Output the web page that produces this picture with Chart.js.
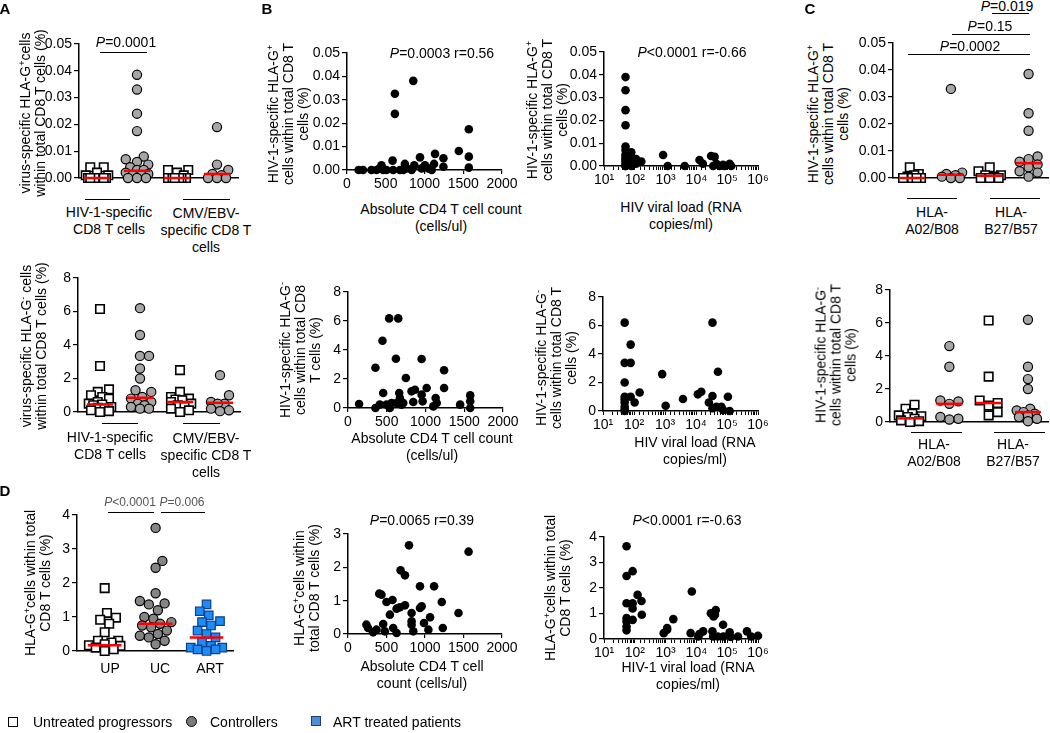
<!DOCTYPE html>
<html>
<head>
<meta charset="utf-8">
<script src="https://cdn.jsdelivr.net/npm/chart.js@4.4.0/dist/chart.umd.min.js"></script>
<style>
  body { margin: 0; background: #fff; width: 1050px; height: 733px; position: relative; overflow: hidden;
         font-family: 'Liberation Sans', Arial, sans-serif; color: #000; }
  canvas { position: absolute; }
  .t { position: absolute; transform: translate(-50%, -50%); font-size: 14px; line-height: 16px;
       text-align: center; white-space: nowrap; }
  .r { transform: translate(-50%, -50%) rotate(-90deg); line-height: 15px; }
  .hl { position: absolute; height: 0; border-top: 1.5px solid #000; }
  .lt { position: absolute; font-size: 14px; white-space: nowrap; transform: translateY(-50%); }
  sup { font-size: 9px; vertical-align: 5px; line-height: 0; }
</style>
</head>
<body>
<script>
// ---------- DATA ----------
// A top: virus-specific HLA-G+ cells within total CD8 T cells (%)
const aPosHivUP = [0.004, 0.004, 0.002, 0.001, 0.001, 0, 0, 0, 0, 0, 0, 0, 0, 0];
const aPosHivUC = [0.0385, 0.033, 0.024, 0.0175, 0.008, 0.007, 0.006, 0.005, 0.004, 0.003, 0.003, 0.002, 0.0015, 0.001, 0.001, 0, 0, 0];
const aPosCmvUP = [0.003, 0.003, 0.002, 0.001, 0, 0, 0, 0, 0, 0, 0];
const aPosCmvUC = [0.019, 0.005, 0.003, 0.0015, 0.001, 0, 0, 0];
const aPosMedians = [0, 0.0027, 0, 0.0015];

// A bottom: virus-specific HLA-G- cells (%)
const aNegHivUP = [6.15, 2.75, 1.35, 1.2, 1.0, 0.9, 0.8, 0.6, 0.5, 0.45, 0.4, 0.3, 0.25, 0.2, 0.1, 0.05, 0];
const aNegHivUC = [6.2, 4.6, 3.35, 3.35, 2.6, 2.0, 1.3, 1.2, 0.9, 0.8, 0.6, 0.5, 0.4, 0.3, 0.2, 0.2];
const aNegCmvUP = [2.5, 1.2, 0.9, 0.8, 0.75, 0.7, 0.6, 0.5, 0.4, 0.3, 0.2, 0.1, 0];
const aNegCmvUC = [2.2, 1.0, 0.6, 0.5, 0.5, 0.2, 0.1, 0.05];
const aNegMedians = [0.45, 0.85, 0.6, 0.55];

// B: CD4 count / viral load vs HIV-1-specific HLA-G+ and HLA-G- cells
const b1Cd4 = [150, 207, 315, 380, 423, 445, 466, 510, 588, 596, 618, 618, 683, 726, 747, 769, 834, 855, 868, 942, 963, 1006, 1050, 1093, 1123, 1136, 1244, 1244, 1443, 1572, 1572, 1572];
const b1Pos = [0, 0, 0, 0, 0.0007, 0.002, 0, 0, 0.004, 0, 0.0326, 0.024, 0, 0, 0.0026, 0.0007, 0, 0.0381, 0.002, 0.0054, 0.0007, 0.002, 0.0007, 0, 0.0026, 0.0069, 0.005, 0.0014, 0.0081, 0.0174, 0.0057, 0.001];

const b2Vl = [50, 50, 50, 50, 50, 50, 50, 50, 50, 50, 50, 50, 50, 77, 77, 77, 77, 110, 110, 163, 830, 1170, 4170, 12600, 16200, 30000, 35000, 39000, 44600, 57000, 73000, 83000, 120000, 135000];
const b2Pos = [0.039, 0.0332, 0.0245, 0.0179, 0.0085, 0.007, 0.005, 0.004, 0.003, 0.002, 0.001, 0, 0, 0.006, 0.004, 0.002, 0, 0.003, 0.001, 0.002, 0.0048, 0, 0, 0.0026, 0.001, 0.0044, 0, 0.004, 0.001, 0, 0.0005, 0, 0.001, 0];

const b3Cd4 = [143, 354, 354, 410, 445, 454, 497, 540, 531, 562, 618, 626, 648, 661, 670, 691, 713, 747, 820, 842, 864, 950, 950, 963, 1015, 1101, 1131, 1145, 1240, 1240, 1447, 1577, 1577, 1577];
const b3Neg = [0.28, 0, 2.78, 0.23, 4.64, 1.03, 0.23, 0, 6.18, 0.34, 3.4, 0.34, 6.18, 1.03, 0.69, 0.23, 0.34, 2.07, 1.15, 0.41, 1.26, 3.38, 0.92, 0.46, 1.38, 0.11, 0.69, 0.34, 2.6, 1.38, 0.23, 0.87, 0.46, 0];

const b4Vl = [50, 50, 50, 50, 50, 50, 50, 50, 50, 78, 78, 78, 105, 152, 810, 1050, 3800, 11500, 14800, 26000, 34000, 34000, 34000, 45500, 51000, 66000, 75000, 107000, 122000];
const b4Neg = [6.2, 3.38, 2.0, 1.0, 0.8, 0.6, 0.3, 0.1, 0, 4.66, 3.38, 1.0, 0.6, 1.3, 2.59, 0.37, 0.84, 1.17, 1.35, 0.6, 6.2, 1.05, 0.19, 0.3, 2.75, 0.3, 0.07, 1.0, 0];

// C: HIV-1-specific cells by HLA allele group
const cPosA02UP = [0.004, 0.0015, 0.001, 0.0005, 0, 0, 0, 0];
const cPosA02UC = [0.033, 0.002, 0.0015, 0.001, 0.0005, 0, 0];
const cPosB27UP = [0.004, 0.0025, 0.001, 0.001, 0.0005, 0, 0, 0];
const cPosB27UC = [0.0385, 0.024, 0.0175, 0.008, 0.007, 0.006, 0.005, 0.004, 0.0025, 0.002, 0.0005];
const cPosMedians = [0, 0.0012, 0.0008, 0.0055];

const cNegA02UP = [1.05, 0.8, 0.5, 0.4, 0.35, 0.3, 0.2, 0.1, 0.05, 0];
const cNegA02UC = [4.6, 3.35, 1.3, 1.25, 1.1, 0.3, 0.2, 0.15];
const cNegB27UP = [6.15, 2.75, 1.3, 1.15, 1.0, 0.6, 0.4];
const cNegB27UC = [6.2, 3.35, 2.6, 2.0, 0.8, 0.7, 0.6, 0.5, 0.4, 0.3, 0.2, 0.05];
const cNegMedians = [0.22, 1.1, 1.15, 0.6];

// D: total HLA-G+ CD8 T cells (%)
const dUP = [1.85, 1.12, 0.98, 0.92, 0.8, 0.55, 0.3, 0.3, 0.25, 0.2, 0.17, 0.15, 0.1, 0.05, 0];
const dUC = [3.62, 2.65, 2.45, 1.7, 1.47, 1.4, 1.37, 1.2, 1.0, 0.95, 0.85, 0.8, 0.75, 0.7, 0.6, 0.5, 0.45, 0.4, 0.3, 0.2];
const dART = [1.37, 1.17, 1.05, 0.88, 0.85, 0.75, 0.6, 0.5, 0.4, 0.25, 0.15, 0.1, 0.1, 0.05, 0.05, 0];
const dMedians = [0.17, 0.8, 0.4];

const d2Cd4 = [239, 261, 326, 370, 405, 435, 457, 478, 500, 544, 578, 587, 631, 631, 674, 683, 740, 740, 792, 826, 826, 826, 848, 935, 935, 957, 987, 1044, 1066, 1118, 1218, 1231, 1435, 1566];
const d2Pos = [0.28, 0.18, 0.05, 0.13, 1.21, 1.18, 0.3, 0.08, 0.96, 0.58, 1.02, 0.18, 0.76, 0.03, 0.8, 1.91, 1.76, 0.86, 2.66, 0.63, 0.38, 0.28, 0.08, 1.43, 0.78, 0.83, 0.33, 0.13, 0.5, 1.43, 0.96, 0.18, 0.63, 2.47];

const d3Vl = [54, 54, 54, 54, 54, 54, 54, 85, 85, 85, 85, 123, 165, 169, 870, 1120, 1120, 1780, 6500, 7100, 11500, 12500, 16600, 29500, 33000, 35000, 36000, 40000, 42500, 49000, 73500, 75000, 120000, 130000, 224000, 437000, 600000, 1000000];
const d3Pos = [3.64, 2.47, 1.4, 0.82, 0.69, 0.49, 0.34, 2.66, 1.4, 1.2, 0.75, 1.73, 1.49, 0.95, 0.23, 0.36, 0.43, 0.78, 0.23, 1.86, 0.1, 0.19, 0.3, 1.01, 0.3, 0.1, 0.88, 0.95, 1.14, 0.1, 0.56, 0.1, 0.26, 0.08, 0.1, 0.3, 0.1, 0.13];

// ---------- SETUP ----------
Chart.defaults.font.family = "'Liberation Sans', Arial, sans-serif";
Chart.defaults.font.size = 14;
Chart.defaults.color = '#000';

const YW = 42, PT = 12, PR = 18;
const SUP = ['\u2070', '\u00b9', '\u00b2', '\u00b3', '\u2074', '\u2075', '\u2076'];

const STYLE = {
  up:  { pointStyle: 'rect', pointRadius: 6, pointBackgroundColor: '#fff', pointBorderColor: '#000', pointBorderWidth: 1.6 },
  uc:  { pointStyle: 'circle', pointRadius: 4.6, pointBackgroundColor: '#a6a6a6', pointBorderColor: '#000', pointBorderWidth: 1.2 },
  ucD: { pointStyle: 'circle', pointRadius: 4.6, pointBackgroundColor: '#858585', pointBorderColor: '#000', pointBorderWidth: 1.2 },
  art: { pointStyle: 'rect', pointRadius: 6, pointBackgroundColor: '#1e8cf5', pointBorderColor: '#0b3f8f', pointBorderWidth: 1.2 }
};

function addCanvas(box, xh) {
  const c = document.createElement('canvas');
  const w = YW + (box.r - box.l) + PR, h = PT + (box.b - box.t) + xh;
  c.width = w; c.height = h;
  c.style.left = (box.l - YW) + 'px';
  c.style.top = (box.t - PT) + 'px';
  c.style.width = w + 'px';
  c.style.height = h + 'px';
  document.body.appendChild(c);
  return c;
}

function yScale(max, step, dec) {
  return {
    min: 0, max,
    ticks: { stepSize: step, callback: v => v.toFixed(dec), padding: 2 },
    grid: { drawOnChartArea: false, tickLength: 5, color: '#000', lineWidth: 1.2 },
    border: { color: '#000', width: 1.5 },
    afterFit: s => { s.width = YW; }
  };
}

function options(x, y) {
  return {
    responsive: false, animation: false, events: [],
    layout: { padding: { top: PT, right: PR, left: 0, bottom: 0 } },
    plugins: { legend: { display: false }, tooltip: { enabled: false } },
    scales: { x, y }
  };
}

// spread dots of equal value sideways (in pixels) so they do not overlap
function swarm(values, center, kx, ky, r, spread) {
  const placed = [], out = [];
  const idx = values.map((v, i) => i).sort((a, b) => values[a] - values[b]);
  const n = Math.floor(spread / (r / 2));
  idx.forEach(i => {
    const py = values[i] * ky;
    let best = 0, bestD = -1;
    for (let k = 0; k <= 2 * n; k++) {
      const off = (k % 2 ? 1 : -1) * Math.ceil(k / 2) * r / 2;
      let d = Infinity;
      placed.forEach(p => { d = Math.min(d, Math.hypot(p.x - off, p.y - py)); });
      if (d >= 2 * r) { best = off; break; }
      if (d > bestD + 0.5) { bestD = d; best = off; }
    }
    placed.push({ x: best, y: py });
    out[i] = { x: center + best / kx, y: values[i] };
  });
  return out;
}

function dotPanel(box, xr, y, spread, groups) {
  const c = addCanvas(box, 14);
  const kx = (box.r - box.l) / (xr[1] - xr[0]);
  const ky = (box.b - box.t) / y.max;
  const datasets = [];
  groups.forEach(g => {
    datasets.push(Object.assign({ type: 'scatter', data: swarm(g.values, g.pos, kx, ky, 4.5, spread), clip: false, order: 1 }, STYLE[g.kind]));
    datasets.push({ type: 'line', data: [{ x: g.pos - 0.33, y: g.median }, { x: g.pos + 0.33, y: g.median }],
                    borderColor: '#ff0000', borderWidth: 2.5, pointRadius: 0, clip: false, order: 0 });
  });
  const x = { type: 'linear', min: xr[0], max: xr[1], ticks: { display: false }, grid: { display: false },
              border: { color: '#000', width: 1.5 }, afterFit: s => { s.height = 14; } };
  new Chart(c, { type: 'scatter', data: { datasets }, options: options(x, yScale(y.max, y.step, y.dec)) });
}

function cd4X() {
  return { type: 'linear', min: 0, max: 2000,
           ticks: { stepSize: 500, padding: 2, maxRotation: 0, callback: v => String(v) },
           grid: { drawOnChartArea: false, tickLength: 4, color: '#000', lineWidth: 1.2 },
           border: { color: '#000', width: 1.5 }, afterFit: s => { s.height = 26; } };
}

function vlX() {
  return { type: 'logarithmic', min: 10, max: 1e6,
           ticks: { autoSkip: false, maxRotation: 0, padding: 2,
                    callback: v => { const e = Math.round(Math.log10(v)); return Math.abs(v - Math.pow(10, e)) < 1e-6 * v ? '10' + SUP[e] : ''; } },
           grid: { drawOnChartArea: false, tickLength: 4, color: '#000', lineWidth: 1 },
           border: { color: '#000', width: 1.5 }, afterFit: s => { s.height = 26; } };
}

function scatterPanel(box, x, y, xs, ys) {
  const c = addCanvas(box, 26);
  const data = xs.map((v, i) => ({ x: v, y: ys[i] }));
  new Chart(c, { type: 'scatter',
    data: { datasets: [{ data, pointRadius: 4.3, pointBackgroundColor: '#000', pointBorderColor: '#000', pointBorderWidth: 0, clip: false }] },
    options: options(x, yScale(y.max, y.step, y.dec)) });
}

function label(html, x, y, cls, style) {
  const d = document.createElement('div');
  d.className = cls || 't';
  d.innerHTML = html;
  d.style.left = x + 'px';
  d.style.top = y + 'px';
  if (style) Object.assign(d.style, style);
  document.body.appendChild(d);
}

function hline(x1, x2, y) {
  const d = document.createElement('div');
  d.className = 'hl';
  d.style.left = x1 + 'px';
  d.style.width = (x2 - x1) + 'px';
  d.style.top = y + 'px';
  document.body.appendChild(d);
}

// ---------- PANEL A ----------
dotPanel({ l: 79, t: 44, r: 238, b: 178 }, [0.55, 4.525], { max: 0.05, step: 0.01, dec: 2 }, 13, [
  { values: aPosHivUP, pos: 1, kind: 'up', median: aPosMedians[0] },
  { values: aPosHivUC, pos: 2, kind: 'uc', median: aPosMedians[1] },
  { values: aPosCmvUP, pos: 3, kind: 'up', median: aPosMedians[2] },
  { values: aPosCmvUC, pos: 4, kind: 'uc', median: aPosMedians[3] }
]);
dotPanel({ l: 78, t: 278, r: 240, b: 412 }, [0.45, 4.5], { max: 8, step: 2, dec: 0 }, 12, [
  { values: aNegHivUP, pos: 1, kind: 'up', median: aNegMedians[0] },
  { values: aNegHivUC, pos: 2, kind: 'uc', median: aNegMedians[1] },
  { values: aNegCmvUP, pos: 3, kind: 'up', median: aNegMedians[2] },
  { values: aNegCmvUC, pos: 4, kind: 'uc', median: aNegMedians[3] }
]);

// ---------- PANEL B ----------
scatterPanel({ l: 347, t: 53, r: 502, b: 170 }, cd4X(), { max: 0.05, step: 0.01, dec: 2 }, b1Cd4, b1Pos);
scatterPanel({ l: 604, t: 52, r: 758, b: 166 }, vlX(), { max: 0.05, step: 0.01, dec: 2 }, b2Vl, b2Pos);
scatterPanel({ l: 348, t: 292, r: 503, b: 408 }, cd4X(), { max: 8, step: 2, dec: 0 }, b3Cd4, b3Neg);
scatterPanel({ l: 603, t: 297, r: 758, b: 411 }, vlX(), { max: 8, step: 2, dec: 0 }, b4Vl, b4Neg);

// ---------- PANEL C ----------
dotPanel({ l: 893, t: 43, r: 1048, b: 178 }, [0.51, 4.5], { max: 0.05, step: 0.01, dec: 2 }, 13, [
  { values: cPosA02UP, pos: 1, kind: 'up', median: cPosMedians[0] },
  { values: cPosA02UC, pos: 2, kind: 'uc', median: cPosMedians[1] },
  { values: cPosB27UP, pos: 3, kind: 'up', median: cPosMedians[2] },
  { values: cPosB27UC, pos: 4, kind: 'uc', median: cPosMedians[3] }
]);
dotPanel({ l: 890, t: 290, r: 1048, b: 422 }, [0.49, 4.51], { max: 8, step: 2, dec: 0 }, 13, [
  { values: cNegA02UP, pos: 1, kind: 'up', median: cNegMedians[0] },
  { values: cNegA02UC, pos: 2, kind: 'uc', median: cNegMedians[1] },
  { values: cNegB27UP, pos: 3, kind: 'up', median: cNegMedians[2] },
  { values: cNegB27UC, pos: 4, kind: 'uc', median: cNegMedians[3] }
]);

// ---------- PANEL D ----------
dotPanel({ l: 77, t: 515, r: 233, b: 651 }, [0.456, 3.52], { max: 4, step: 1, dec: 0 }, 16, [
  { values: dUP, pos: 1, kind: 'up', median: dMedians[0] },
  { values: dUC, pos: 2, kind: 'ucD', median: dMedians[1] },
  { values: dART, pos: 3, kind: 'art', median: dMedians[2] }
]);
scatterPanel({ l: 348, t: 534, r: 502, b: 634 }, cd4X(), { max: 3, step: 1, dec: 0 }, d2Cd4, d2Pos);
scatterPanel({ l: 604, t: 537, r: 758, b: 639 }, vlX(), { max: 4, step: 1, dec: 0 }, d3Vl, d3Pos);

// ---------- TEXT ----------
const posG = 'HIV-1-specific HLA-G<sup>+</sup>', negG = 'HIV-1-specific HLA-G<sup>-</sup>';
label('virus-specific HLA-G<sup>+</sup>cells<br>within total CD8 T cells (%)', 33, 113, 't r');
label('virus-specific HLA-G<sup>-</sup> cells<br>within total CD8 T cells (%)', 34, 346, 't r');
label(posG + '<br>cells within total CD8 T<br>cells (%)', 288, 114, 't r');
label(posG + '<br>cells within total CD8 T<br>cells (%)', 547, 110, 't r');
label(negG + '<br>cells within total CD8<br>T cells (%)', 300, 350, 't r');
label(negG + '<br>cells within total CD8 T<br>cells (%)', 556, 358, 't r');
label(posG + '<br>cells within total CD8 T<br>cells (%)', 828, 114, 't r');
label(negG + '<br>cells within total CD8 T<br>cells (%)', 836, 355, 't r');
label('HLA-G<sup>+</sup>cells within total<br>CD8 T cells (%)', 38, 583, 't r');
label('HLA-G<sup>+</sup>cells within<br>total CD8 T cells (%)', 307, 588, 't r');
label('HLA-G<sup>+</sup>cells within total<br>CD8 T cells (%)', 558, 588, 't r');

const xt = { lineHeight: '17px' };
label('Absolute CD4 T cell count<br>(cells/ul)', 441, 218, 't', xt);
label('HIV viral load (RNA<br>copies/ml)', 681, 216, 't', xt);
label('Absolute CD4 T cell count<br>(cells/ul)', 432, 447, 't', xt);
label('HIV viral load (RNA<br>copies/ml)', 695, 451, 't', xt);
label('Absolute CD4 T cell<br>count (cells/ul)', 422, 675, 't', xt);
label('HIV-1 viral load (RNA<br>copies/ml)', 688, 676, 't', xt);

label('<i>P</i>=0.0003 r=0.56', 442, 53);
label('<i>P</i>&lt;0.0001 r=-0.66', 692, 52);
label('<i>P</i>=0.0065 r=0.39', 422, 520);
label('<i>P</i>&lt;0.0001 r=-0.63', 687, 520);

// group labels and underlines
label('HIV-1-specific<br>CD8 T cells', 109, 221, 't', xt);
label('CMV/EBV-<br>specific CD8 T<br>cells', 206, 230, 't', xt);
hline(85, 130, 199); hline(183, 230, 199);
label('HIV-1-specific<br>CD8 T cells', 110, 446, 't', xt);
label('CMV/EBV-<br>specific CD8 T<br>cells', 206, 455, 't', xt);
hline(102, 138, 423); hline(183, 220, 423);
label('HLA-<br>A02/B08', 932, 221, 't', xt);
label('HLA-<br>B27/B57', 1011, 221, 't', xt);
hline(907, 957, 198); hline(990, 1040, 198);
label('HLA-<br>A02/B08', 934, 453, 't', xt);
label('HLA-<br>B27/B57', 1013, 453, 't', xt);
hline(911, 962, 432); hline(994, 1045, 432);
label('UP', 110, 668); label('UC', 160, 668); label('ART', 210, 668);

// significance brackets
label('<i>P</i>=0.0001', 126, 42); hline(100, 147, 52);
label('<i>P</i>=0.019', 1007, 6); hline(992, 1029, 13);
label('<i>P</i>=0.15', 990, 26); hline(952, 1030, 34);
label('<i>P</i>=0.0002', 970, 46); hline(908, 1030, 54);
const gp = { color: '#555', fontSize: '12px' };
label('<i>P</i>&lt;0.0001', 130, 502, 't', gp); hline(108, 154, 512);
label('<i>P</i>=0.006', 182, 502, 't', gp); hline(161, 205, 512);

// panel letters
const pl = { fontWeight: 'bold', fontSize: '15px' };
label('A', 5, 9, 't', pl);
label('B', 267, 9, 't', pl);
label('C', 810, 9, 't', pl);
label('D', 5, 491, 't', pl);

// legend
function swatch(x, y, size, bg, border, round) {
  const d = document.createElement('div');
  Object.assign(d.style, { position: 'absolute', left: (x - size / 2) + 'px', top: (y - size / 2) + 'px',
    width: size + 'px', height: size + 'px', background: bg, border: '1.3px solid ' + border,
    boxSizing: 'border-box', borderRadius: round ? '50%' : '0' });
  document.body.appendChild(d);
}
swatch(13, 722, 10, '#fff', '#000', false);
label('Untreated progressors', 33, 722, 'lt');
swatch(191, 721, 11, '#7a7a7a', '#000', true);
label('Controllers', 210, 722, 'lt');
swatch(316, 721, 10, '#4f8fd6', '#1d3f73', false);
label('ART treated patients', 333, 722, 'lt');
</script>
</body>
</html>
